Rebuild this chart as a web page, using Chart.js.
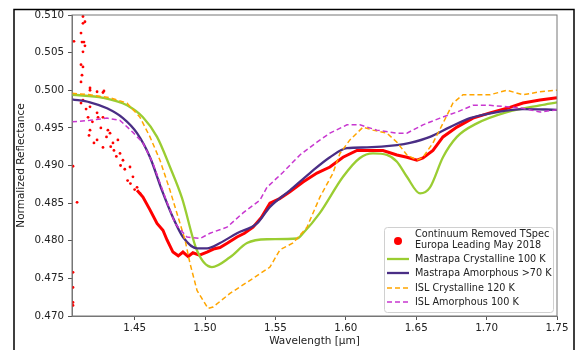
<!DOCTYPE html>
<html>
<head>
<meta charset="utf-8">
<script src="https://cdn.jsdelivr.net/npm/chart.js@4.4.1/dist/chart.umd.min.js"></script>
<style>
  html, body { margin: 0; padding: 0; background: #fff; }
  canvas { display: block; }
</style>
</head>
<body>
<canvas id="spectrumChart" width="579" height="350"></canvas>
<script>
// axis ticks
const wavelengthTicks = [1.45, 1.50, 1.55, 1.60, 1.65, 1.70, 1.75];
const reflectanceTicks = [0.470, 0.475, 0.480, 0.485, 0.490, 0.495, 0.500, 0.505, 0.510];

const legendLabels = [
  ["Continuum Removed TSpec", "Europa Leading May 2018"],
  ["Mastrapa Crystalline 100 K"],
  ["Mastrapa Amorphous >70 K"],
  ["ISL Crystalline 120 K"],
  ["ISL Amorphous 100 K"]
];

// TSpec points, scattered part (wavelength um, reflectance)
const tspecScatter = [
  [1.4133, 0.5098], [1.4147, 0.5091], [1.4133, 0.5089], [1.4119, 0.5076], [1.4126, 0.5064],
  [1.4140, 0.5064], [1.4147, 0.5059], [1.4133, 0.5051], [1.4069, 0.5065], [1.4119, 0.5034],
  [1.4133, 0.5031], [1.4126, 0.5020], [1.4119, 0.5011], [1.4183, 0.5003], [1.4233, 0.4998],
  [1.4282, 0.4999], [1.4062, 0.4899], [1.4091, 0.4851], [1.4062, 0.4758], [1.4062, 0.4738],
  [1.4062, 0.4718], [1.4062, 0.4714], [1.4133, 0.4987], [1.4183, 0.4978], [1.4233, 0.4970],
  [1.4275, 0.4964], [1.4183, 0.4947], [1.4233, 0.4934], [1.4275, 0.4924], [1.4325, 0.4943],
  [1.4346, 0.4930], [1.4396, 0.4916], [1.4417, 0.4907], [1.4467, 0.4898], [1.4488, 0.4885],
  [1.4517, 0.4871], [1.4538, 0.4863], [1.4183, 0.5000], [1.4275, 0.4997], [1.4119, 0.4983],
  [1.4169, 0.4964], [1.4240, 0.4964], [1.4176, 0.4940], [1.4211, 0.4930], [1.4310, 0.4947],
  [1.4381, 0.4934], [1.4353, 0.4920], [1.4155, 0.4975], [1.4200, 0.4958], [1.4260, 0.4950],
  [1.4300, 0.4938], [1.4330, 0.4925], [1.4370, 0.4912], [1.4400, 0.4900], [1.4430, 0.4895],
  [1.4450, 0.4880], [1.4470, 0.4876], [1.4500, 0.4868]
];

// TSpec points, dense part
const tspecLine = [
  [1.4517, 0.4867], [1.4559, 0.4858], [1.4609, 0.4841], [1.4659, 0.4823], [1.4701, 0.4814],
  [1.4730, 0.4801], [1.4772, 0.4785], [1.4810, 0.4780], [1.4843, 0.4785], [1.4880, 0.4779],
  [1.4914, 0.4784], [1.4960, 0.4781], [1.5014, 0.4785], [1.5060, 0.4789], [1.5106, 0.4791],
  [1.5160, 0.4797], [1.5227, 0.4805], [1.5280, 0.4810], [1.5341, 0.4818], [1.5400, 0.4831],
  [1.5461, 0.4850], [1.5530, 0.4856], [1.5603, 0.4865], [1.5696, 0.4878], [1.5795, 0.4890],
  [1.5887, 0.4898], [1.5980, 0.4911], [1.6079, 0.4920], [1.6172, 0.4920], [1.6264, 0.4920],
  [1.6363, 0.4914], [1.6434, 0.4911], [1.6505, 0.4907], [1.6548, 0.4910], [1.6619, 0.4920],
  [1.6690, 0.4938], [1.6789, 0.4951], [1.6903, 0.4963], [1.7024, 0.4970], [1.7145, 0.4976],
  [1.7258, 0.4983], [1.7379, 0.4987], [1.7500, 0.4990]
];

const mastrapaCryst = [
  [1.4055, 0.4994], [1.4275, 0.4990], [1.4446, 0.4980], [1.4559, 0.4964], [1.4659, 0.4938],
  [1.4751, 0.4898], [1.4836, 0.4857], [1.4943, 0.4787], [1.5049, 0.4765], [1.5177, 0.4778],
  [1.5298, 0.4797], [1.5440, 0.4802], [1.5653, 0.4803], [1.5696, 0.4810], [1.5816, 0.4837],
  [1.5980, 0.4885], [1.6100, 0.4910], [1.6193, 0.4916], [1.6292, 0.4914], [1.6363, 0.4905],
  [1.6434, 0.4885], [1.6527, 0.4863], [1.6598, 0.4871], [1.6690, 0.4911], [1.6789, 0.4938],
  [1.6931, 0.4956], [1.7145, 0.4971], [1.7379, 0.4980], [1.7500, 0.4984]
];

const mastrapaAmorph = [
  [1.4055, 0.4988], [1.4183, 0.4984], [1.4304, 0.4976], [1.4417, 0.4963], [1.4517, 0.4943],
  [1.4609, 0.4911], [1.4694, 0.4867], [1.4772, 0.4831], [1.4843, 0.4805], [1.4943, 0.4790],
  [1.5014, 0.4790], [1.5106, 0.4797], [1.5227, 0.4810], [1.5369, 0.4823], [1.5461, 0.4845],
  [1.5603, 0.4867], [1.5745, 0.4890], [1.5887, 0.4911], [1.6008, 0.4923], [1.6150, 0.4924],
  [1.6363, 0.4927], [1.6456, 0.4930], [1.6598, 0.4938], [1.6740, 0.4951], [1.6882, 0.4963],
  [1.7074, 0.4971], [1.7258, 0.4975], [1.7500, 0.4974]
];

const islCryst = [
  [1.4055, 0.4996], [1.4183, 0.4994], [1.4325, 0.4990], [1.4446, 0.4983], [1.4538, 0.4964],
  [1.4609, 0.4938], [1.4680, 0.4907], [1.4751, 0.4867], [1.4858, 0.4801], [1.4893, 0.4770],
  [1.4943, 0.4734], [1.5021, 0.4710], [1.5057, 0.4712], [1.5177, 0.4730], [1.5341, 0.4750],
  [1.5461, 0.4765], [1.5532, 0.4788], [1.5625, 0.4797], [1.5724, 0.4818], [1.5816, 0.4858],
  [1.5909, 0.4890], [1.5958, 0.4916], [1.6029, 0.4934], [1.6122, 0.4951], [1.6193, 0.4947],
  [1.6292, 0.4943], [1.6363, 0.4931], [1.6434, 0.4914], [1.6505, 0.4907], [1.6548, 0.4911],
  [1.6619, 0.4930], [1.6690, 0.4956], [1.6761, 0.4983], [1.6832, 0.4994], [1.7024, 0.4994],
  [1.7145, 0.5000], [1.7258, 0.4994], [1.7379, 0.4998], [1.7500, 0.5000]
];

const islAmorph = [
  [1.4055, 0.4958], [1.4183, 0.4960], [1.4304, 0.4963], [1.4396, 0.4960], [1.4488, 0.4944],
  [1.4559, 0.4930], [1.4630, 0.4903], [1.4716, 0.4858], [1.4787, 0.4823], [1.4872, 0.4805],
  [1.4964, 0.4803], [1.5035, 0.4810], [1.5156, 0.4818], [1.5270, 0.4837], [1.5390, 0.4854],
  [1.5440, 0.4871], [1.5554, 0.4891], [1.5674, 0.4914], [1.5795, 0.4931], [1.5887, 0.4943],
  [1.6008, 0.4954], [1.6100, 0.4954], [1.6221, 0.4947], [1.6363, 0.4943], [1.6434, 0.4943],
  [1.6548, 0.4954], [1.6669, 0.4963], [1.6789, 0.4971], [1.6903, 0.4980], [1.7024, 0.4980],
  [1.7145, 0.4978], [1.7258, 0.4976], [1.7379, 0.4971], [1.7500, 0.4974]
];

const toXY = arr => arr.map(p => ({x: p[0], y: p[1]}));
const FONT = "'DejaVu Sans', sans-serif";

// black outer frame, plot spines and the legend box
const framePlugin = {
  id: 'frame',
  beforeDraw(chart) {
    const ctx = chart.ctx;
    ctx.save();
    ctx.fillStyle = '#fff';
    ctx.fillRect(0, 0, chart.width, chart.height);
    ctx.strokeStyle = '#000';
    ctx.lineWidth = 1.5;
    ctx.beginPath();
    ctx.moveTo(14, 351);
    ctx.lineTo(14, 9.5);
    ctx.lineTo(574, 9.5);
    ctx.lineTo(574, 351);
    ctx.stroke();
    ctx.restore();
  },
  afterDraw(chart) {
    const ctx = chart.ctx;
    const a = chart.chartArea;
    ctx.save();
    ctx.strokeStyle = '#777';
    ctx.lineWidth = 1;
    ctx.strokeRect(a.left, a.top, a.right - a.left, a.bottom - a.top);

    // legend
    const bx = 384, by = 227, bw = 169, bh = 85;
    ctx.fillStyle = 'rgba(255,255,255,0.85)';
    ctx.strokeStyle = '#d0d0d0';
    ctx.lineWidth = 1;
    ctx.beginPath();
    ctx.roundRect(bx + 0.5, by + 0.5, bw, bh, 3);
    ctx.fill();
    ctx.stroke();

    const ds = chart.data.datasets;
    const rows = [
      {ds: ds[0], y: [234, 245], mark: 241},
      {ds: ds[2], y: [259], mark: 259},
      {ds: ds[3], y: [273], mark: 273},
      {ds: ds[4], y: [288], mark: 288},
      {ds: ds[5], y: [302], mark: 302}
    ];
    ctx.font = '9.7px ' + FONT;
    ctx.textBaseline = 'middle';
    ctx.textAlign = 'left';
    rows.forEach((r, i) => {
      if (i === 0) {
        ctx.fillStyle = r.ds.backgroundColor;
        ctx.beginPath();
        ctx.arc(398, r.mark, 4, 0, Math.PI * 2);
        ctx.fill();
      } else {
        ctx.strokeStyle = r.ds.borderColor;
        ctx.lineWidth = r.ds.borderWidth;
        ctx.setLineDash(r.ds.borderDash || []);
        ctx.beginPath();
        ctx.moveTo(387, r.mark);
        ctx.lineTo(409, r.mark);
        ctx.stroke();
        ctx.setLineDash([]);
      }
      ctx.fillStyle = '#222';
      legendLabels[i].forEach((t, j) => ctx.fillText(t, 415, r.y[j]));
    });
    ctx.restore();
  }
};

new Chart(document.getElementById('spectrumChart'), {
  type: 'scatter',
  data: {
    datasets: [
      {
        label: 'tspec',
        data: toXY(tspecScatter),
        backgroundColor: '#ff0000',
        borderColor: '#ff0000',
        pointRadius: 1.4,
        pointBorderWidth: 0,
        order: 6
      },
      {
        label: 'tspec line',
        data: toXY(tspecLine),
        showLine: true,
        borderColor: '#ff0000',
        backgroundColor: '#ff0000',
        borderWidth: 3,
        pointRadius: 0,
        order: 5
      },
      {
        label: 'Mastrapa Crystalline',
        data: toXY(mastrapaCryst),
        showLine: true,
        borderColor: '#9acd32',
        borderWidth: 2.3,
        pointRadius: 0,
        cubicInterpolationMode: 'monotone',
        order: 4
      },
      {
        label: 'Mastrapa Amorphous',
        data: toXY(mastrapaAmorph),
        showLine: true,
        borderColor: '#4a2e85',
        borderWidth: 2.3,
        pointRadius: 0,
        cubicInterpolationMode: 'monotone',
        order: 3
      },
      {
        label: 'ISL Crystalline',
        data: toXY(islCryst),
        showLine: true,
        borderColor: '#ffa500',
        borderWidth: 1.5,
        borderDash: [5, 3],
        pointRadius: 0,
        order: 2
      },
      {
        label: 'ISL Amorphous',
        data: toXY(islAmorph),
        showLine: true,
        borderColor: '#c837d0',
        borderWidth: 1.5,
        borderDash: [5, 3],
        pointRadius: 0,
        order: 1
      }
    ]
  },
  options: {
    responsive: false,
    animation: false,
    layout: { padding: { left: 14, right: 22, top: 15, bottom: 0 } },
    plugins: { legend: { display: false }, tooltip: { enabled: false } },
    scales: {
      x: {
        type: 'linear',
        min: 1.4055,
        max: 1.75,
        afterFit: s => { s.height = 34; },
        afterBuildTicks: s => { s.ticks = wavelengthTicks.map(v => ({value: v})); },
        grid: { drawOnChartArea: false, tickLength: 4, color: '#555' },
        border: { color: '#777' },
        ticks: { padding: 2, color: '#222', font: { size: 10.3, family: FONT }, callback: v => v.toFixed(2) },
        title: { display: true, text: 'Wavelength [μm]', color: '#222', font: { size: 10.5, family: FONT }, padding: { top: 0, bottom: 2 } }
      },
      y: {
        min: 0.470,
        max: 0.510,
        afterFit: s => { s.width = 58; },
        afterBuildTicks: s => { s.ticks = reflectanceTicks.map(v => ({value: v})); },
        grid: { drawOnChartArea: false, tickLength: 4, color: '#555' },
        border: { color: '#777' },
        ticks: { padding: 4, color: '#222', font: { size: 10.3, family: FONT }, callback: v => v.toFixed(3) },
        title: { display: true, text: 'Normalized Reflectance', color: '#222', font: { size: 10.5, family: FONT }, padding: { top: 1, bottom: 0 } }
      }
    }
  },
  plugins: [framePlugin]
});
</script>
</body>
</html>
